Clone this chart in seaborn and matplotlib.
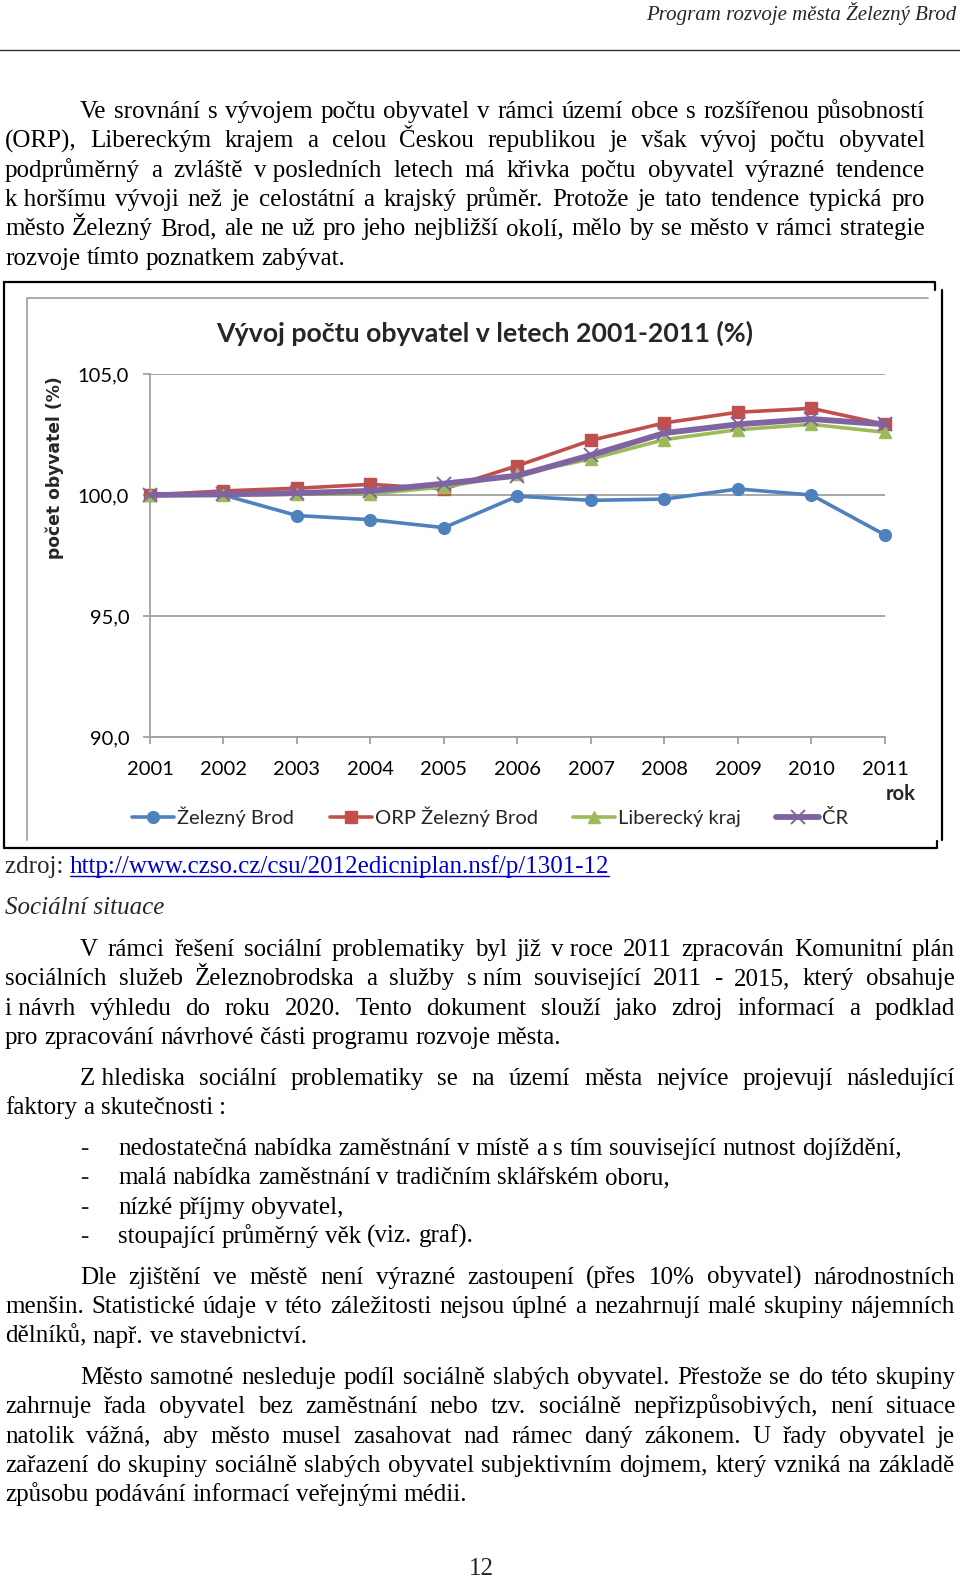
import matplotlib
matplotlib.use('Agg')
import matplotlib.pyplot as plt
from matplotlib.lines import Line2D
import seaborn as sns
import pandas as pd

W, H = 960, 1577

# Data (index, 2001 = 100 %)
years = [2001, 2002, 2003, 2004, 2005, 2006, 2007, 2008, 2009, 2010, 2011]
zelezny_brod = [100.0, 100.0, 99.15, 98.98, 98.65, 99.95, 99.78, 99.83, 100.25, 100.0, 98.35]
orp_zelezny_brod = [100.0, 100.17, 100.28, 100.44, 100.25, 101.21, 102.26, 102.98, 103.42, 103.58, 102.92]
liberecky_kraj = [100.0, 99.98, 100.03, 100.05, 100.33, 100.85, 101.49, 102.29, 102.70, 102.92, 102.59]
cr = [100.0, 100.03, 100.08, 100.17, 100.47, 100.80, 101.65, 102.56, 102.92, 103.14, 102.92]
series_names = ['Železný Brod', 'ORP Železný Brod', 'Liberecký kraj', 'ČR']
y_ticks = [90, 95, 100, 105]
y_tick_labels = ['90,0', '95,0', '100,0', '105,0']

df = pd.DataFrame({
    'rok': years * 4,
    'hodnota': zelezny_brod + orp_zelezny_brod + liberecky_kraj + cr,
    'oblast': [n for n in series_names for _ in years],
})

styles = {
    'Železný Brod': dict(color='#4F81BD', marker='o', lw=2.6, ms=8.5, mew=1),
    'ORP Železný Brod': dict(color='#C0504D', marker='s', lw=2.6, ms=8, mew=1),
    'Liberecký kraj': dict(color='#9BBB59', marker='^', lw=2.6, ms=8.5, mew=1),
    'ČR': dict(color='#8064A2', marker='x', lw=4.2, ms=9.5, mew=1.4),
}

sns.set_theme(style='white')
plt.rcParams['font.family'] = ['Liberation Serif', 'DejaVu Serif']
CHART_FONT = ['Lato', 'DejaVu Sans']

fig = plt.figure(figsize=(9.6, 15.77), dpi=100)
bg = fig.add_axes([0, 0, 1, 1])
bg.set_xlim(0, W)
bg.set_ylim(H, 0)
bg.axis('off')
renderer = fig.canvas.get_renderer()

BODY = 18


def width_of(t):
    return t.get_window_extent(renderer).width


def draw_line(s, x0, x1, y, justify, size=BODY, **kw):
    words = s.split(' ')
    arts = [bg.text(0, y, w.replace('\u00a0', ' '), fontsize=size, va='baseline',
                    ha='left', color='black', **kw) for w in words]
    widths = [width_of(a) for a in arts]
    if justify and len(words) > 1:
        gap = (x1 - x0 - sum(widths)) / (len(words) - 1)
    else:
        probe = bg.text(0, y, 'a a', fontsize=size, **kw)
        probe2 = bg.text(0, y, 'aa', fontsize=size, **kw)
        gap = width_of(probe) - width_of(probe2)
        probe.remove()
        probe2.remove()
    x = x0
    for a, w in zip(arts, widths):
        a.set_x(x)
        x += w + gap
    return x


def paragraph(lines, y0, right, indent=80, left=5, pitch=29.3):
    for i, line in enumerate(lines):
        x0 = indent if i == 0 else left
        draw_line(line, x0, right, y0 + i * pitch, i < len(lines) - 1)


# Header
bg.text(956, 20, 'Program rozvoje města Železný Brod', fontsize=15, style='italic',
        ha='right', va='baseline')
bg.plot([0, W], [50, 50], color='#333333', lw=1)

p1 = [
    'Ve srovnání s vývojem počtu obyvatel v rámci území obce s rozšířenou působností',
    '(ORP), Libereckým krajem a celou Českou republikou je však vývoj počtu obyvatel',
    'podprůměrný a zvláště v\u00a0posledních letech má křivka počtu obyvatel výrazné tendence',
    'k\u00a0horšímu vývoji než je celostátní a krajský průměr. Protože je tato tendence typická pro',
    'město Železný Brod, ale ne už pro jeho nejbližší okolí, mělo by se město v rámci strategie',
    'rozvoje tímto poznatkem zabývat.',
]
paragraph(p1, 118, 925)

# Chart frame
bg.plot([4, 935, 935], [282, 282, 290], color='black', lw=1.6)
bg.plot([4, 4], [282, 848], color='black', lw=1.6)
bg.plot([4, 937, 937], [848, 848, 841], color='black', lw=1.6)
bg.plot([942, 942], [290, 840], color='black', lw=1.6)
bg.plot([27, 928], [298, 298], color='#A6A6A6', lw=1.3)
bg.plot([27, 27], [298, 840], color='#A6A6A6', lw=1.3)

ax = fig.add_axes([150 / W, 1 - 737 / H, 735 / W, 363 / H])
for name in series_names:
    st = styles[name]
    sns.lineplot(data=df[df['oblast'] == name], x='rok', y='hodnota', ax=ax,
                 color=st['color'], marker=st['marker'], lw=st['lw'], ms=st['ms'],
                 markeredgecolor=st['color'], markeredgewidth=st['mew'],
                 clip_on=False, legend=False, errorbar=None, zorder=3)

ax.set_xlim(2001, 2011)
ax.set_ylim(90, 105)
ax.set_xticks(years)
ax.set_xticklabels([str(y) for y in years], family=CHART_FONT, fontsize=14.5)
ax.set_yticks(y_ticks)
ax.set_yticklabels(y_tick_labels, family=CHART_FONT, fontsize=14.5)
ax.set_xlabel('')
ax.set_ylabel('')
ax.grid(False)
ax.yaxis.grid(True, color='#A0A0A0', lw=1.3)
ax.set_facecolor('none')
for side in ['top', 'right']:
    ax.spines[side].set_visible(False)
for side in ['left', 'bottom']:
    ax.spines[side].set_color('#A0A0A0')
    ax.spines[side].set_linewidth(1.3)
ax.tick_params(axis='both', direction='out', length=5, width=1.3, color='#A0A0A0',
               labelcolor='black', left=True, bottom=True)
ax.tick_params(axis='y', pad=10)
ax.tick_params(axis='x', pad=12)

bg.text(485, 342, 'Vývoj počtu obyvatel v letech 2001-2011 (%)', family=CHART_FONT,
        fontsize=19.3, fontweight='bold', ha='center', va='baseline')
bg.text(55, 468, 'počet obyvatel (%)', family=['DejaVu Sans'], fontsize=12.3,
        fontweight='bold', rotation=90, ha='center', va='center')
bg.text(916, 800, 'rok', family=CHART_FONT, fontsize=14.5, fontweight='bold',
        ha='right', va='baseline')

handles = [Line2D([], [], color=styles[n]['color'], marker=styles[n]['marker'],
                  lw=styles[n]['lw'], ms=styles[n]['ms'],
                  markeredgecolor=styles[n]['color'], mew=styles[n]['mew'])
           for n in series_names]
fig.legend(handles, series_names, loc='center', bbox_to_anchor=(490 / W, 1 - 817 / H),
           ncol=4, frameon=False, handlelength=2.1, handletextpad=0.15,
           columnspacing=1.75, prop={'family': CHART_FONT, 'size': 14.5})

# Source line
t = bg.text(5, 873, 'zdroj: ', fontsize=BODY, va='baseline')
xl = 5 + width_of(t)
link = bg.text(xl, 873, 'http://www.czso.cz/csu/2012edicniplan.nsf/p/1301-12',
               fontsize=BODY, va='baseline', color='#0000CC')
bg.plot([xl, xl + width_of(link)], [876, 876], color='#0000CC', lw=1)

bg.text(5, 914, 'Sociální situace', fontsize=BODY, style='italic', va='baseline')

p2 = [
    'V rámci řešení sociální problematiky byl již v\u00a0roce 2011 zpracován Komunitní plán',
    'sociálních služeb Železnobrodska a služby s\u00a0ním související 2011 - 2015, který obsahuje',
    'i\u00a0návrh výhledu do roku 2020. Tento dokument slouží jako zdroj informací a podklad',
    'pro zpracování návrhové části programu rozvoje města.',
]
paragraph(p2, 956, 955)

p3 = [
    'Z\u00a0hlediska sociální problematiky se na území města nejvíce projevují následující',
    'faktory a skutečnosti :',
]
paragraph(p3, 1085, 955)

bullets = [
    'nedostatečná nabídka zaměstnání v místě a s tím související nutnost dojíždění,',
    'malá nabídka zaměstnání v tradičním sklářském oboru,',
    'nízké příjmy obyvatel,',
    'stoupající průměrný věk (viz. graf).',
]
for i, b in enumerate(bullets):
    yb = 1155 + i * 29.3
    bg.text(80, yb, '-', fontsize=BODY, va='baseline')
    draw_line(b, 118, 955, yb, False)

p4 = [
    'Dle zjištění ve městě není výrazné zastoupení (přes 10% obyvatel) národnostních',
    'menšin. Statistické údaje v této záležitosti nejsou úplné a nezahrnují malé skupiny nájemních',
    'dělníků, např. ve stavebnictví.',
]
paragraph(p4, 1284, 955)

p5 = [
    'Město samotné nesleduje podíl sociálně slabých obyvatel. Přestože se do této skupiny',
    'zahrnuje řada obyvatel bez zaměstnání nebo tzv. sociálně nepřizpůsobivých, není situace',
    'natolik vážná, aby město musel zasahovat nad rámec daný zákonem. U řady obyvatel je',
    'zařazení do skupiny sociálně slabých obyvatel subjektivním dojmem, který vzniká na základě',
    'způsobu podávání informací veřejnými médii.',
]
paragraph(p5, 1384, 955)

bg.text(481, 1575, '12', fontsize=BODY, ha='center', va='baseline')

fig.savefig('out.png', dpi=100)
